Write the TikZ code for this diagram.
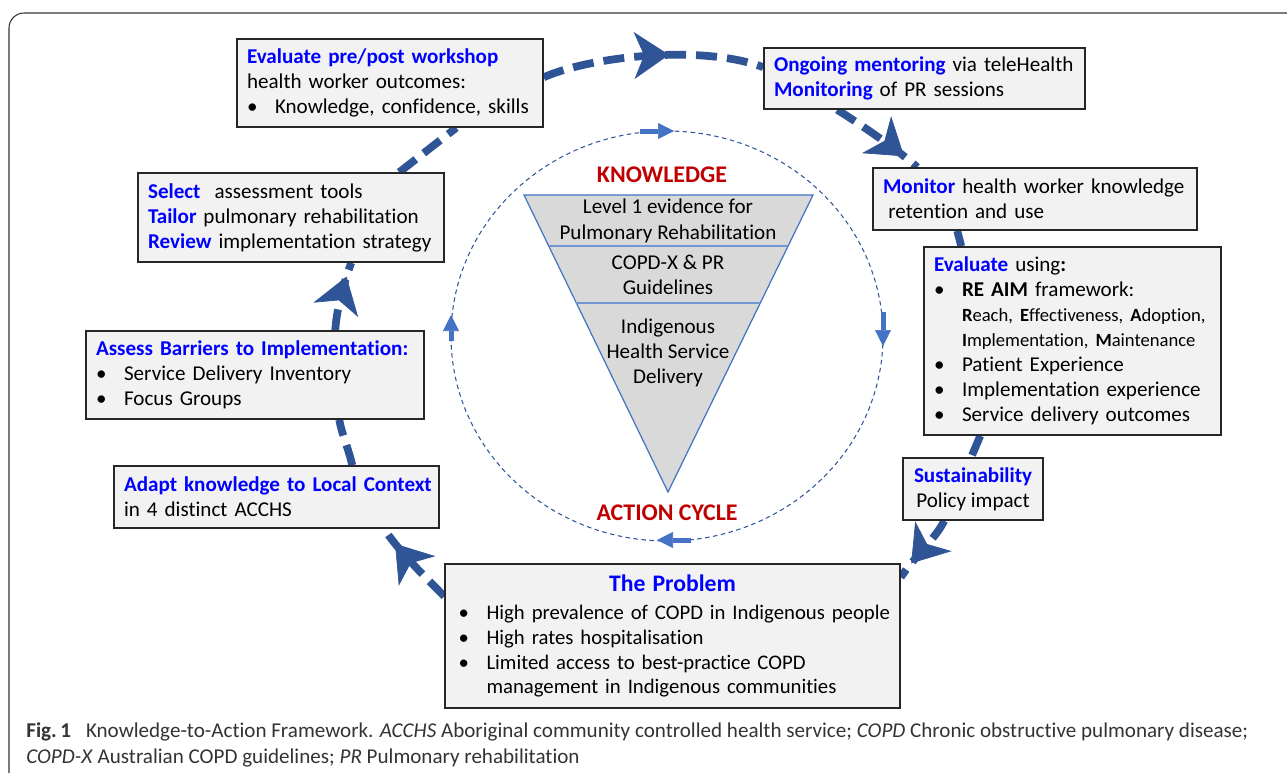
\documentclass[tikz,border=0pt]{standalone}
\usepackage{fontspec}
\setmainfont{Carlito}[Ligatures=NoCommon]
\usetikzlibrary{arrows.meta,calc,decorations.markings,backgrounds}

\definecolor{cycblue}{HTML}{2F5597}
\definecolor{kblue}{HTML}{4472C4}
\definecolor{boxfill}{HTML}{F2F2F2}
\definecolor{hdblue}{HTML}{0000FF}
\definecolor{kred}{HTML}{C00000}
\definecolor{trifill}{HTML}{D9D9D9}

\newcommand{\hd}[1]{\textcolor{hdblue}{\textbf{#1}}}
\newcommand{\itm}{\makebox[0.56cm][l]{\textbullet}}

\tikzset{
  box/.style={draw=black!85, line width=0.9pt, fill=boxfill, inner xsep=0.2cm, inner ysep=0pt,
    font=\fontsize{12}{14.2}\selectfont, align=left},
  tritext/.style={align=center, inner sep=0pt, font=\fontsize{12}{14.4}\selectfont},
  kcap/.style={text=kred, inner sep=0pt, font=\fontsize{13.6}{15}\selectfont\bfseries},
  kring/.style={draw=cycblue, line width=0.6pt, dash pattern=on 0.09cm off 0.07cm},
  karrow/.style={draw=kblue, line width=0.1cm, -{Triangle[length=0.32cm, width=0.32cm, line width=0.4pt]}},
  cyc/.style={draw=cycblue, line width=0.155cm, dash pattern=on 0.42cm off 0.2cm},
  cyctip/.style={postaction={decorate, decoration={markings,
    mark=at position #1 with {\arrow{Stealth[length=0.7cm, width=0.94cm, inset=0.2cm, line width=0.4pt]}}}}},
  capline/.style={inner sep=0pt, anchor=base west, text=black!80, font=\fontsize{12}{14}\selectfont},
}

\begin{document}
\begin{tikzpicture}[x=0.02cm, y=-0.02cm]
\useasboundingbox (0,0) rectangle (1287,772);

% boxes of the cycle
\node[box, text width=5.72cm, minimum height=1.76cm] (evalpre) at (390,83)
  {\hd{Evaluate pre/post workshop}\\ health worker outcomes:\\ \mbox{\itm Knowledge, confidence, skills}};
\node[box, text width=5.72cm, minimum height=1.78cm] (select) at (291,217.5)
  {\hd{Select}\ \ assessment tools\\ \hd{Tailor} pulmonary rehabilitation\\ \mbox{\hd{Review} implementation strategy}};
\node[box, text width=6.36cm, minimum height=1.76cm] (assess) at (255,375)
  {\hd{Assess Barriers to Implementation:}\\ \itm Service Delivery Inventory\\ \itm Focus Groups};
\node[box, text width=6.10cm, minimum height=1.24cm] (adapt) at (276.5,497)
  {\mbox{\hd{Adapt knowledge to Local Context}}\\ in 4 distinct ACCHS};
\node[box, text width=6.02cm, minimum height=1.22cm] (ongoing) at (924.5,78.5)
  {\hd{Ongoing mentoring} via teleHealth\\ \hd{Monitoring} of PR sessions};
\node[box, text width=6.08cm, minimum height=1.24cm] (monitor) at (1035,199)
  {\mbox{\hd{Monitor} health worker knowledge}\\ \hspace*{3pt}retention and use};
\node[box, text width=5.54cm, minimum height=3.76cm] (evalre) at (1072.5,341)
  {\hd{Evaluate} using\textbf{:}\\
   \itm\textbf{RE AIM} framework:\\
   \hspace*{0.56cm}\mbox{\fontsize{10.6}{14.2}\selectfont\textbf{R}each, \textbf{E}ffectiveness, \textbf{A}doption,}\\
   \hspace*{0.56cm}\mbox{\fontsize{10.6}{14.2}\selectfont\textbf{I}mplementation, \textbf{M}aintenance}\\
   \itm Patient Experience\\
   \itm Implementation experience\\
   \itm Service delivery outcomes};
\node[box, align=center, minimum width=2.8cm, minimum height=1.24cm] (sust) at (973,489)
  {\hd{Sustainability}\\ Policy impact};
\node[box, inner xsep=0.27cm, text width=8.56cm, minimum height=2.88cm,
      font=\fontsize{11.8}{14.2}\selectfont] (prob) at (672.5,636)
  {\makebox[\linewidth]{\fontsize{13.5}{15}\selectfont\hd{The Problem}}\\[0.06cm]
   \mbox{\itm High prevalence of COPD in Indigenous people}\\
   \itm High rates hospitalisation\\
   \itm Limited access to best-practice COPD\\
   \hspace*{0.56cm}\mbox{management in Indigenous communities}};

% knowledge funnel
\coordinate (tl) at (524,195);
\coordinate (tr) at (813,195);
\coordinate (apex) at (668,492);
\draw[draw=kblue, fill=trifill, line width=0.7pt] (tl) -- (tr) -- (apex) -- cycle;
\draw[draw=kblue!75, line width=0.9pt] ($(tl)!0.1717!(apex)$) -- ($(tr)!0.1717!(apex)$);
\draw[draw=kblue!75, line width=0.9pt] ($(tl)!0.3636!(apex)$) -- ($(tr)!0.3636!(apex)$);
\node[tritext] (lvl) at (668,221) {Level 1 evidence for\\Pulmonary Rehabilitation};
\node[tritext] (guide) at (668,275) {COPD-X \& PR\\Guidelines};
\node[tritext] (ihsd) at (668,353) {Indigenous\\Health Service\\Delivery};
\node[kcap] (know) at (662,175) {KNOWLEDGE};
\node[kcap] (act) at (667,513) {ACTION CYCLE};

% inner cycle
\draw[kring] (667,336) ellipse [x radius=216, y radius=205];
\coordinate (ka1) at (640,131);  \coordinate (ka2) at (674,131);
\coordinate (kb1) at (883,312);  \coordinate (kb2) at (883,346);
\coordinate (kc1) at (691,540);  \coordinate (kc2) at (657,540);
\coordinate (kd1) at (451,341);  \coordinate (kd2) at (451,315);
\draw[karrow] (ka1) -- (ka2);
\draw[karrow] (kb1) -- (kb2);
\draw[karrow] (kc1) -- (kc2);
\draw[karrow] (kd1) -- (kd2);

% outer action cycle, behind the boxes
\begin{scope}[on background layer]
\draw[black!80, line width=0.6pt, rounded corners=0.3cm] (9,13) rectangle (1310,800);
\draw[cyc, cyctip=1.44cm] ($(prob.north west)+(0,33)$) .. controls (425,577) and (396,548) .. ($(adapt.south west)+(271,0)$);
\draw[cyc] ($(adapt.north west)+(239,0)$) .. controls (349,450) and (342,435) .. ($(assess.south west)+(254,0)$);
\draw[cyc, cyctip=1.1cm] ($(assess.north west)+(250,0)$) .. controls (337,305) and (345,280) .. ($(select.south west)+(214,0)$);
\draw[cyc] ($(select.north west)+(262,0)$) -- ($(evalpre.south west)+(220,0)$);
\draw[cyc, cyctip=2.56cm] ($(evalpre.north east)+(0,39)$) .. controls (595,55) and (705,45) .. ($(ongoing.north west)+(0,20)$);
\draw[cyc, cyctip=1.63cm] ($(ongoing.south west)+(74,0)$) .. controls (860,124) and (898,150) .. ($(monitor.north west)+(45,0)$);
\draw[cyc] ($(monitor.south west)+(85,0)$) -- ($(evalre.north west)+(38,0)$);
\draw[cyc] ($(evalre.south west)+(57,0)$) -- ($(sust.north west)+(69,0)$);
\draw[cyc, cyctip=1.08cm] ($(sust.south west)+(42,0)$) .. controls (936,538) and (915,556) .. ($(prob.north east)+(0,14)$);
\end{scope}

% caption
\node[capline] (cap1) at (26,737) {\textbf{Fig.\,1}\hspace{0.3cm}Knowledge-to-Action Framework. \textit{ACCHS} Aboriginal community controlled health service; \textit{COPD} Chronic obstructive pulmonary disease;};
\node[capline] (cap2) at (26,763) {\textit{COPD-X} Australian COPD guidelines; \textit{PR} Pulmonary rehabilitation};
\end{tikzpicture}
\end{document}
